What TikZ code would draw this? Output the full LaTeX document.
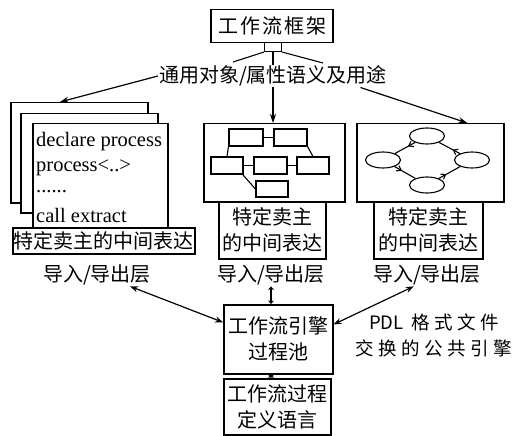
\documentclass[tikz,border=0pt]{standalone}
\usepackage{fontspec}
\setmainfont{Liberation Serif}
\newfontfamily\cjk{Noto Sans CJK SC}
\usetikzlibrary{shapes.geometric,arrows.meta,calc,decorations.markings}
\begin{document}
\begin{tikzpicture}[x=1pt,y=-1pt,
  box/.style={draw,line width=1.5pt,inner sep=0pt,fill=white},
  cjkt/.style={font=\cjk\fontsize{20}{26}\selectfont,inner sep=1pt,align=center},
  codet/.style={font=\fontsize{20.5}{24}\selectfont,inner sep=0pt,anchor=west},
  small/.style={draw,line width=1.1pt,inner sep=0pt,fill=white},
  elli/.style={draw,ellipse,line width=1.1pt,inner sep=0pt,minimum width=35pt,minimum height=16pt},
  arr/.style={-{Stealth[length=9pt,width=6pt]},line width=1.2pt},
  darr/.style={{Stealth[length=8pt,width=6pt]}-{Stealth[length=8pt,width=6pt]},line width=1.2pt},
  sdarr/.style={{Stealth[length=3.5pt,width=6pt]}-{Stealth[length=3.5pt,width=6pt]},line width=1.8pt},
  cyc/.style={line width=1.1pt,postaction={decorate},decoration={markings,mark=at position 0.35 with {\arrow{Straight Barb[length=4pt,width=6pt]}}}},
  thin/.style={line width=1.1pt}
]
\useasboundingbox (0,0) rectangle (520,436);

% top
\node[box,cjkt,minimum width=122pt,minimum height=33pt] (top) at (272,26) {工\kern2pt 作\kern2pt 流\kern2pt 框\kern2pt 架};
\node[small,minimum width=17pt,minimum height=9pt] (sq) at (273,47) {};
\node[cjkt] (lab) at (273,76) {通用对象/属性语义及用途};
\coordinate (fl) at (233,62);
\coordinate (fr) at (323,63);
\draw[thin] (sq.south west) -- (fl);
\draw[thin] (sq.south east) -- (fr);
\draw[thin] (sq.south) -- (lab.north);

% left stack
\node[box,minimum width=137pt,minimum height=100pt,anchor=north west] (p3) at (10,102) {};
\node[box,minimum width=137pt,minimum height=99pt,anchor=north west] (p2) at (20,113) {};
\node[box,minimum width=135pt,minimum height=104pt,anchor=north west] (p1) at (32,123) {};
\node[codet] (c1) at (36,142) {declare process};
\node[codet] (c2) at (36,168) {process<..>};
\node[codet] (c3) at (36,192) {......};
\node[codet] (c4) at (36,215) {call extract};
\node[box,cjkt,minimum width=181pt,minimum height=26pt,anchor=north west] (l1) at (12,227) {特定卖主的中间表达};
\node[cjkt] (imp1) at (97,275) {导入/导出层};

% middle box
\node[box,minimum width=141pt,minimum height=78pt,anchor=north west] (mid) at (203,123) {};
\node[small,minimum width=34pt,minimum height=17pt] (r1) at (246,137.5) {};
\node[small,minimum width=33pt,minimum height=17pt] (r2) at (290.5,137.5) {};
\node[small,minimum width=32pt,minimum height=17pt] (r3) at (227,165.5) {};
\node[small,minimum width=33pt,minimum height=17pt] (r4) at (270.5,165.5) {};
\node[small,minimum width=32pt,minimum height=17pt] (r5) at (313,165.5) {};
\node[small,minimum width=32pt,minimum height=16pt] (r6) at (272,189) {};
\draw[thin] (r1) -- (r2);
\draw[thin] (r3) -- (r4);
\draw[thin] (r4) -- (r5);
\draw[thin] (r1.south west) -- (r3.north);
\draw[thin] (r2.south east) -- (r5.north);
\draw[thin] (r3.-30) -- (r6.west);
\node[box,cjkt,minimum width=107pt,minimum height=57pt,anchor=north west] (l2) at (218,201) {特定卖主\\的中间表达};
\node[cjkt] (imp2) at (271,275) {导入/导出层};

% right box
\node[box,minimum width=147pt,minimum height=78pt,anchor=north west] (rgt) at (356,123) {};
\node[elli] (te) at (427,136) {};
\node[elli] (le) at (383,160) {};
\node[elli] (re) at (472,160) {};
\node[elli] (be) at (427,185) {};
\draw[cyc] (te) -- (le);
\draw[cyc] (le) -- (be);
\draw[cyc] (be) -- (re);
\draw[cyc] (re) -- (te);
\node[box,cjkt,minimum width=109pt,minimum height=57pt,anchor=north west] (l3) at (373,201) {特定卖主\\的中间表达};
\node[cjkt] (imp3) at (427,275) {导入/导出层};

% arrows from label
\draw[arr] (lab.west) -- ($(p3.north west)!0.36!(p3.north east)$);
\draw[arr] (lab.south) -- (lab.south |- mid.north);
\draw[arr] ($(lab.south west)!0.88!(lab.south east)$) -- ($(rgt.north west)!0.75!(rgt.north east)$);

% engine
\node[box,cjkt,minimum width=109pt,minimum height=69pt,anchor=north west] (eng) at (223,304) {工作流引擎\\过程池};
\node[box,cjkt,minimum width=107pt,minimum height=56pt,anchor=north west] (bot) at (223,378) {工作流过程\\定义语言};
\node[cjkt,font=\cjk\fontsize{18.5}{26}\selectfont] (pdl) at (434,335) {PDL\kern8pt 格\kern4.5pt 式\kern4.5pt 文\kern4.5pt 件\\交\kern4.5pt 换\kern4.5pt 的\kern4.5pt 公\kern4.5pt 共\kern4.5pt 引\kern4.5pt 擎};

\draw[darr] ($(imp1.south)!0.6!(imp1.south east)$) -- ($(eng.north west)!0.26!(eng.south west)$);
\draw[sdarr] (imp2.south) -- (imp2.south |- eng.north);
\draw[darr] ($(imp3.south west)!0.38!(imp3.south east)$) -- ($(eng.north east)!0.29!(eng.south east)$);
\draw[sdarr] (eng.south -| imp2) -- (bot.north -| imp2);
\end{tikzpicture}
\end{document}
